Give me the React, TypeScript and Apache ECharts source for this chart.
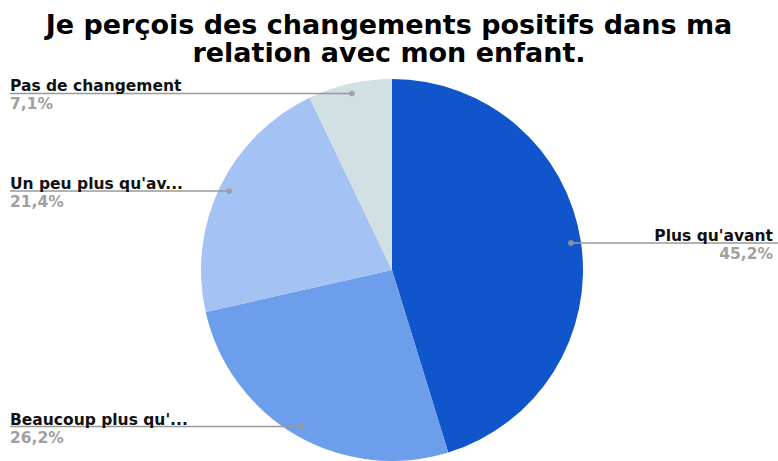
import React, { useEffect, useRef } from "react";
import * as echarts from "echarts";

const categories = ["Plus qu'avant", "Beaucoup plus qu'...", "Un peu plus qu'av...", "Pas de changement"];
const values = [45.2, 26.2, 21.4, 7.1];
const valueLabels = ["45,2%", "26,2%", "21,4%", "7,1%"];
const colors = ["#1155cc", "#6d9eeb", "#a4c2f4", "#d0e0e3"];
const titleText = "Je perçois des changements positifs dans ma\nrelation avec mon enfant.";

const FONT = "DejaVu Sans, Verdana, sans-serif";

export default function App() {
  const ref = useRef<HTMLDivElement>(null);
  useEffect(() => {
    document.body.style.margin = "0";
    const chart = echarts.init(ref.current!, null, { renderer: "svg" });
    const total = values.reduce((a, b) => a + b, 0);
    let cum = 0;
    const mids: number[] = values.map((v) => {
      const m = cum + v / 2;
      cum += v;
      return (m / total) * 100;
    });
    const center = [392, 270];
    const R = 191;
    const rDot = 181;
    const W = 778;
    chart.setOption({
      animation: false,
      title: {
        text: titleText,
        left: "center",
        top: 5,
        textStyle: {
          fontFamily: FONT,
          fontWeight: "bold",
          fontSize: 27,
          lineHeight: 28,
          color: "#000",
        },
      },
      polar: { center, radius: R },
      angleAxis: {
        type: "value",
        min: 0,
        max: 100,
        startAngle: 90,
        clockwise: true,
        show: false,
      },
      radiusAxis: { type: "value", min: 0, max: R, show: false },
      series: [
        {
          type: "pie",
          center,
          radius: R,
          startAngle: 90,
          clockwise: true,
          silent: true,
          label: { show: false },
          labelLine: { show: false },
          itemStyle: { borderWidth: 0 },
          data: categories.map((c, i) => ({ name: c, value: values[i], itemStyle: { color: colors[i] } })),
        },
        {
          type: "pie",
          center,
          radius: rDot,
          startAngle: 90,
          clockwise: true,
          silent: true,
          z: 3,
          itemStyle: { color: "rgba(0,0,0,0)", borderWidth: 0 },
          label: {
            show: true,
            position: "outside",
            formatter: (p: any) => `{n|${categories[p.dataIndex]}}\n{v|${valueLabels[p.dataIndex]}}`,
            rich: {
              n: {
                fontFamily: FONT,
                fontWeight: "bold",
                fontSize: 15.5,
                color: "#111111",
                lineHeight: 18,
              },
              v: {
                fontFamily: FONT,
                fontWeight: "bold",
                fontSize: 15.5,
                color: "#a0a0a0",
                lineHeight: 18,
              },
            },
          },
          labelLine: { show: true, length: 0, length2: 5, lineStyle: { color: "#999999", width: 1.5 } },
          labelLayout: (params: any) => {
            const pts = params.labelLinePoints;
            if (!pts) return {};
            const ax = pts[0][0];
            const ay = pts[0][1];
            const left = ax < center[0];
            const ex = left ? 10 : W;
            return {
              x: left ? 10 : W - 5,
              y: ay + 2,
              align: left ? "left" : "right",
              verticalAlign: "middle",
              labelLinePoints: [
                [ax, ay],
                [ax, ay],
                [ex, ay],
              ],
            };
          },
          data: categories.map((c, i) => ({ name: c, value: values[i] })),
        },
        {
          type: "scatter",
          coordinateSystem: "polar",
          symbol: "circle",
          symbolSize: 6,
          silent: true,
          z: 4,
          itemStyle: { color: "#999999" },
          data: mids.map((m) => [rDot, m]),
        },
      ],
    });
    return () => chart.dispose();
  }, []);
  return <div ref={ref} style={{ width: 778, height: 461 }} />;
}
